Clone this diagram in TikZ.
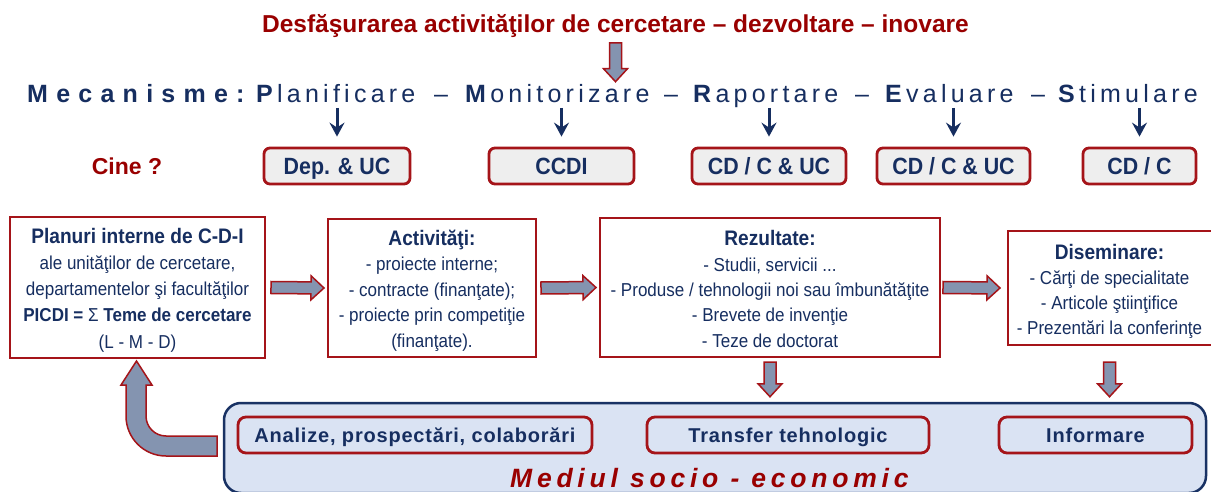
\documentclass[tikz,border=0pt]{standalone}
\usepackage{fontspec}
\setmainfont{Liberation Sans}
\newfontfamily\fcond{Liberation Sans}[FakeStretch=0.91]
\newfontfamily\fmecw{Liberation Sans}[LetterSpace=33]
\newfontfamily\fmec{Liberation Sans}[LetterSpace=17]
\newfontfamily\fbot{Liberation Sans}[LetterSpace=4]
\newfontfamily\fmed{Liberation Sans}[LetterSpace=18]
\usetikzlibrary{calc,arrows.meta}

\definecolor{tred}{RGB}{153,0,0}
\definecolor{bred}{RGB}{165,20,25}
\definecolor{navy}{RGB}{22,46,96}
\definecolor{agray}{RGB}{132,148,176}
\definecolor{cinefill}{RGB}{238,238,238}
\definecolor{envfill}{RGB}{218,227,243}
\definecolor{envline}{RGB}{25,50,100}

\tikzset{
  fatarrowstyle/.style={fill=agray, draw=bred, line width=1.5pt, line join=miter},
  smallarrow/.style={draw=navy, line width=3pt, -{Stealth[length=14pt,width=15pt,inset=5pt]}},
  mainbox/.style={draw=bred, line width=2pt, fill=white, inner sep=0pt},
  boxtext/.style={align=center, text=navy, inner sep=0pt, font=\fcond\fontsize{18.7}{25.5}\selectfont},
  cinebox/.style={draw=bred, line width=2.8pt, fill=cinefill, rounded corners=6pt, text=navy,
    inner sep=0pt, font=\fcond\fontsize{23.5}{26}\selectfont\bfseries, text height=16.8pt, text depth=0pt},
  envbox/.style={draw=envline, line width=2.5pt, fill=envfill, rounded corners=17pt, inner sep=0pt},
  inbox/.style={draw=bred, line width=2.8pt, fill=envfill, rounded corners=8pt, text=navy, inner sep=0pt,
    font=\fbot\fontsize{20}{22}\selectfont\bfseries, text height=14.3pt, text depth=0pt},
  mecword/.style={text=navy, inner sep=0pt, anchor=base west, font=\fmec\fontsize{25}{28}\selectfont},
  dashword/.style={text=navy, inner sep=0pt, anchor=base, font=\fontsize{25}{28}\selectfont},
}

\newcommand\fatarrow[2]{%
  \coordinate (fa-s) at #1;
  \coordinate (fa-e) at #2;
  \coordinate (fa-h) at ($(fa-e)!13pt!(fa-s)$);
  \draw[fatarrowstyle] ($(fa-s)!6pt!90:(fa-e)$) -- ($(fa-h)!6pt!90:(fa-e)$) -- ($(fa-h)!12pt!90:(fa-e)$)
    -- (fa-e) -- ($(fa-h)!12pt!-90:(fa-e)$) -- ($(fa-h)!6pt!-90:(fa-e)$) -- ($(fa-s)!6pt!-90:(fa-e)$) -- cycle;}

\begin{document}
\begin{tikzpicture}[x=1pt,y=-1pt]
\useasboundingbox (0,0) rectangle (1211,492);
\fill[white] (0,0) rectangle (1211,492);

% title
\node[text=tred, font=\fontsize{24.5}{28}\selectfont\bfseries, anchor=base, inner sep=0pt] (title) at (615.5,33)
  {Desfăşurarea activităţilor de cercetare – dezvoltare – inovare};

% mechanisms line
\node[mecword, font=\fmecw\fontsize{25}{28}\selectfont\bfseries] (mec) at (27,103) {Mecanisme:};
\node[mecword] (wplan) at (256,103) {\textbf{P}lanificare};
\node[dashword] (d1) at (441,103) {–};
\node[mecword] (wmon) at (465,103) {\textbf{M}onitorizare};
\node[dashword] (d2) at (671,103) {–};
\node[mecword] (wrap) at (693,103) {\textbf{R}aportare};
\node[dashword] (d3) at (862,103) {–};
\node[mecword] (weval) at (885,103) {\textbf{E}valuare};
\node[dashword] (d4) at (1038,103) {–};
\node[mecword] (wstim) at (1058,103) {\textbf{S}timulare};

\fatarrow{($(title.base)+(0,10)$)}{($(title.base |- wmon.north)+(0,-3)$)}

% who
\node[text=tred, font=\fontsize{23}{26}\selectfont\bfseries, anchor=base, inner sep=0pt] (cine) at (127,175) {Cine ?};
\node[cinebox, minimum width=146pt, minimum height=36pt] (b1) at (337,166) {Dep. \& UC};
\node[cinebox, minimum width=145pt, minimum height=36pt] (b2) at (561.5,166) {CCDI};
\node[cinebox, minimum width=154pt, minimum height=36pt] (b3) at (769,166) {CD / C \& UC};
\node[cinebox, minimum width=153pt, minimum height=36pt] (b4) at (953.5,166) {CD / C \& UC};
\node[cinebox, minimum width=113pt, minimum height=36pt] (b5) at (1139.5,166) {CD / C};

\draw[smallarrow] ($(b1.north |- wplan.base)+(0,5)$) -- ($(b1.north)+(0,-10)$);
\draw[smallarrow] ($(b2.north |- wmon.base)+(0,5)$) -- ($(b2.north)+(0,-10)$);
\draw[smallarrow] ($(b3.north |- wrap.base)+(0,5)$) -- ($(b3.north)+(0,-10)$);
\draw[smallarrow] ($(b4.north |- weval.base)+(0,5)$) -- ($(b4.north)+(0,-10)$);
\draw[smallarrow] ($(b5.north |- wstim.base)+(0,5)$) -- ($(b5.north)+(0,-10)$);

% main boxes
\node[mainbox, minimum width=255pt, minimum height=141pt] (pl) at (137.5,287.5) {};
\node[boxtext, font=\fcond\fontsize{18.7}{26.2}\selectfont] (plt) at ($(pl.center)+(0,2.5)$)
  {{\fontsize{21}{26.2}\selectfont\bfseries Planuri interne de C-D-I}\\
   ale unităţilor de cercetare,\\
   departamentelor şi facultăţilor\\
   {\bfseries PICDI = }Σ{\bfseries\ Teme de cercetare}\\
   (L - M - D)};
\node[mainbox, minimum width=208pt, minimum height=138pt] (act) at (432,288) {};
\node[boxtext] (actt) at ($(act.center)+(0,2.5)$)
  {{\fontsize{21}{25.5}\selectfont\bfseries Activităţi:}\\
   - proiecte interne;\\
   - contracte (finanţate);\\
   - proiecte prin competiţie\\
   (finanţate).};
\node[mainbox, minimum width=340pt, minimum height=139pt] (rez) at (770,287.5) {};
\node[boxtext, font=\fcond\fontsize{18.7}{25.3}\selectfont] (rezt) at ($(rez.center)+(0,1.5)$)
  {{\fontsize{21}{25.3}\selectfont\bfseries Rezultate:}\\
   - Studii, servicii ...\\
   - Produse / tehnologii noi sau îmbunătăţite\\
   - Brevete de invenţie\\
   - Teze de doctorat};
\node[mainbox, minimum width=205pt, minimum height=114pt] (dis) at (1110.5,288) {};
\node[boxtext, font=\fcond\fontsize{18.7}{25}\selectfont] (dist) at ($(dis.center)+(-1,3)$)
  {{\fontsize{21}{25}\selectfont\bfseries Diseminare:}\\
   - Cărţi de specialitate\\
   - Articole ştiinţifice\\
   - Prezentări la conferinţe};

% environment
\node[envbox, minimum width=982pt, minimum height=90pt] (env) at (715,448) {};
\node[inbox, minimum width=354pt, minimum height=36pt] (an) at (415,435) {Analize, prospectări, colaborări};
\node[inbox, minimum width=282pt, minimum height=36pt] (tr) at (788,435) {Transfer tehnologic};
\node[inbox, minimum width=193pt, minimum height=36pt] (inf) at (1095.5,435) {Informare};
\node[text=tred, font=\fmed\fontsize{26.5}{30}\selectfont\bfseries\itshape, anchor=base west, inner sep=0pt] (med)
  at (510,487) {Mediul socio - economic};

% fat arrows
\fatarrow{($(pl.east)+(5,0)$)}{($(act.west)+(-3,0)$)}
\fatarrow{($(act.east)+(4,0)$)}{($(rez.west)+(-3,0)$)}
\fatarrow{($(rez.east)+(2,0)$)}{($(dis.west)+(-7,0)$)}
\fatarrow{($(rez.south)+(0,4)$)}{($(rez.south |- env.north)+(0,-5)$)}
\fatarrow{($(dis.south |- rez.south)+(-1,4)$)}{($(dis.south |- env.north)+(-1,-5)$)}

% curved feedback arrow
\draw[fatarrowstyle] (217,436) -- (166,436) .. controls (154.95,436) and (146,427.05) .. (146,416)
  -- (146,385) -- (152,385) -- (136.5,361) -- (121,385) -- (126,385) -- (126,416)
  .. controls (126,438.09) and (143.91,456) .. (166,456) -- (217,456) -- cycle;
\end{tikzpicture}
\end{document}
